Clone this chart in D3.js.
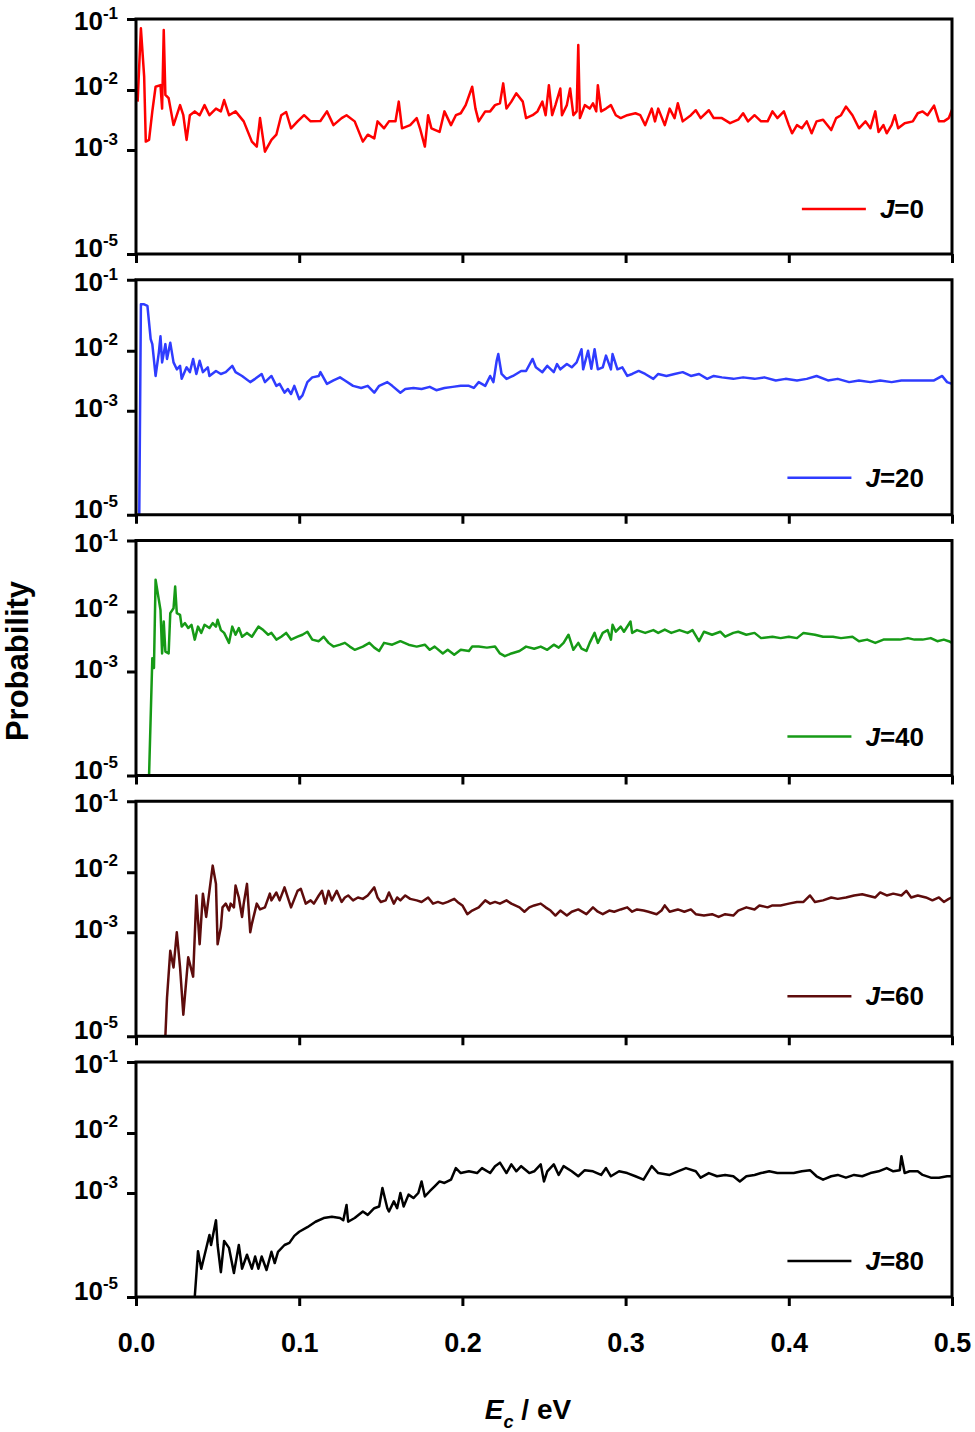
<!DOCTYPE html>
<html>
<head>
<meta charset="utf-8">
<script src="https://cdn.jsdelivr.net/npm/d3@7"></script>
<style>
  body { margin: 0; background: #fff; }
  text { font-family: "Liberation Sans", Arial, sans-serif; font-weight: bold; fill: #000; }
</style>
</head>
<body>
<svg width="975" height="1432"></svg>
<script>
// collision energy (eV) and probability for each J
var eJ0 = [0.001,0.003,0.005,0.006,0.008,0.010,0.012,0.015,0.016,0.017,0.018,0.020,0.023,0.027,0.029,0.031,0.033,0.036,0.039,0.042,0.045,0.049,0.052,0.054,0.057,0.061,0.066,0.071,0.074,0.076,0.079,0.083,0.086,0.089,0.092,0.095,0.099,0.103,0.107,0.113,0.117,0.121,0.126,0.129,0.134,0.139,0.142,0.146,0.148,0.152,0.155,0.159,0.161,0.163,0.168,0.172,0.174,0.177,0.179,0.181,0.186,0.189,0.193,0.196,0.199,0.202,0.206,0.208,0.210,0.214,0.217,0.220,0.223,0.225,0.227,0.230,0.233,0.237,0.239,0.243,0.246,0.249,0.251,0.253,0.255,0.257,0.260,0.261,0.264,0.266,0.268,0.270,0.271,0.272,0.275,0.278,0.280,0.282,0.283,0.285,0.288,0.291,0.294,0.297,0.301,0.306,0.309,0.312,0.316,0.318,0.320,0.324,0.327,0.330,0.332,0.335,0.340,0.343,0.346,0.351,0.354,0.359,0.364,0.369,0.372,0.375,0.379,0.383,0.387,0.390,0.393,0.397,0.400,0.402,0.405,0.408,0.411,0.414,0.417,0.421,0.426,0.429,0.432,0.435,0.439,0.443,0.447,0.450,0.453,0.455,0.458,0.460,0.463,0.465,0.467,0.471,0.476,0.479,0.482,0.485,0.489,0.492,0.495,0.498,0.500];
var pJ0 = [6.4e-3,7.4e-2,1.54e-2,1.38e-3,1.47e-3,4.4e-3,1.11e-2,1.17e-2,4.9e-3,7.0e-2,8.3e-3,7.3e-3,2.6e-3,5.6e-3,3.8e-3,1.47e-3,3.8e-3,4.4e-3,3.8e-3,5.6e-3,3.8e-3,4.9e-3,4.4e-3,6.8e-3,3.8e-3,4.4e-3,3.0e-3,1.38e-3,1.14e-3,3.4e-3,9.3e-4,1.47e-3,1.8e-3,3.8e-3,4.3e-3,2.3e-3,3.0e-3,3.8e-3,3.0e-3,3.05e-3,4.4e-3,2.6e-3,3.4e-3,3.8e-3,3.0e-3,1.38e-3,1.8e-3,1.56e-3,3.0e-3,2.3e-3,3.0e-3,3.0e-3,6.4e-3,2.3e-3,2.6e-3,3.4e-3,2.3e-3,1.14e-3,3.8e-3,2.3e-3,2.0e-3,4.4e-3,2.6e-3,3.8e-3,4.1e-3,5.6e-3,1.11e-2,4.9e-3,3.0e-3,4.4e-3,4.4e-3,5.6e-3,6.0e-3,1.24e-2,4.9e-3,6.4e-3,8.8e-3,6.4e-3,3.4e-3,3.8e-3,4.4e-3,6.4e-3,3.8e-3,1.17e-2,3.8e-3,5.6e-3,1.05e-2,3.8e-3,5.6e-3,1.05e-2,3.8e-3,4.4e-3,4.3e-2,3.4e-3,5.6e-3,4.9e-3,6.0e-3,4.4e-3,1.17e-2,4.4e-3,4.9e-3,5.6e-3,3.8e-3,3.4e-3,3.8e-3,4.1e-3,3.8e-3,2.6e-3,4.9e-3,3.0e-3,4.9e-3,2.6e-3,4.9e-3,3.4e-3,6.0e-3,3.0e-3,3.8e-3,4.6e-3,3.4e-3,4.6e-3,3.4e-3,3.4e-3,2.8e-3,3.2e-3,4.1e-3,3.0e-3,3.8e-3,3.0e-3,3.0e-3,4.4e-3,3.4e-3,4.4e-3,2.6e-3,1.9e-3,2.6e-3,2.3e-3,3.0e-3,1.9e-3,3.0e-3,3.2e-3,2.15e-3,3.4e-3,3.8e-3,5.3e-3,3.8e-3,2.3e-3,3.0e-3,2.3e-3,4.4e-3,2.0e-3,2.6e-3,1.9e-3,2.6e-3,3.8e-3,2.3e-3,2.8e-3,3.0e-3,4.1e-3,4.4e-3,3.8e-3,5.5e-3,3.0e-3,3.0e-3,3.4e-3,4.7e-3];

var eJ20 = [0.002,0.003,0.005,0.007,0.009,0.010,0.012,0.014,0.015,0.016,0.018,0.019,0.021,0.023,0.025,0.027,0.028,0.031,0.033,0.035,0.037,0.039,0.041,0.044,0.045,0.049,0.052,0.055,0.059,0.061,0.065,0.070,0.073,0.077,0.079,0.083,0.086,0.088,0.091,0.093,0.095,0.097,0.100,0.102,0.105,0.108,0.112,0.113,0.117,0.121,0.125,0.128,0.133,0.138,0.142,0.146,0.149,0.154,0.157,0.162,0.165,0.170,0.175,0.180,0.184,0.189,0.194,0.199,0.204,0.207,0.210,0.214,0.217,0.219,0.221,0.222,0.224,0.227,0.231,0.236,0.239,0.243,0.245,0.249,0.252,0.256,0.258,0.260,0.264,0.267,0.270,0.273,0.274,0.277,0.279,0.281,0.283,0.286,0.288,0.291,0.292,0.295,0.298,0.301,0.304,0.308,0.312,0.317,0.320,0.325,0.330,0.335,0.340,0.345,0.350,0.354,0.359,0.366,0.372,0.379,0.385,0.392,0.398,0.405,0.411,0.417,0.424,0.430,0.437,0.443,0.450,0.456,0.463,0.469,0.476,0.482,0.489,0.494,0.497,0.500];
var pJ20 = [1.0e-5,4.5e-2,4.5e-2,4.3e-2,1.46e-2,1.24e-2,3.8e-3,9.4e-3,1.6e-2,6.4e-3,1.24e-2,7.3e-3,1.3e-2,6.4e-3,4.9e-3,5.6e-3,3.4e-3,5.3e-3,4.4e-3,7.3e-3,4.1e-3,6.8e-3,4.4e-3,5.3e-3,3.8e-3,4.6e-3,4.1e-3,4.4e-3,5.6e-3,4.4e-3,3.8e-3,3.0e-3,3.4e-3,4.1e-3,3.0e-3,3.8e-3,2.6e-3,2.8e-3,2.0e-3,2.3e-3,1.9e-3,2.6e-3,1.56e-3,1.8e-3,3.0e-3,3.6e-3,3.8e-3,4.4e-3,2.8e-3,3.2e-3,3.6e-3,3.2e-3,2.6e-3,2.4e-3,2.6e-3,2.0e-3,2.6e-3,3.0e-3,2.6e-3,2.0e-3,2.3e-3,2.4e-3,2.3e-3,2.5e-3,2.2e-3,2.4e-3,2.5e-3,2.6e-3,2.6e-3,2.4e-3,3.0e-3,2.6e-3,3.8e-3,3.0e-3,6.8e-3,8.8e-3,4.1e-3,3.4e-3,3.8e-3,4.6e-3,4.6e-3,7.3e-3,5.3e-3,4.4e-3,5.6e-3,4.4e-3,6.0e-3,4.9e-3,6.0e-3,5.3e-3,6.4e-3,1.05e-2,4.9e-3,1.0e-2,5.0e-3,1.05e-2,4.9e-3,5.3e-3,8.3e-3,4.9e-3,8.8e-3,4.9e-3,5.3e-3,3.8e-3,4.1e-3,4.6e-3,4.1e-3,3.4e-3,4.1e-3,3.8e-3,4.1e-3,4.4e-3,3.8e-3,4.1e-3,3.4e-3,3.8e-3,3.6e-3,3.4e-3,3.6e-3,3.4e-3,3.6e-3,3.2e-3,3.4e-3,3.2e-3,3.4e-3,3.8e-3,3.2e-3,3.4e-3,3.0e-3,3.2e-3,3.0e-3,3.2e-3,3.0e-3,3.2e-3,3.2e-3,3.2e-3,3.2e-3,3.8e-3,3.0e-3,2.8e-3];

var eJ40 = [0.008,0.010,0.011,0.012,0.014,0.015,0.016,0.017,0.018,0.020,0.021,0.023,0.024,0.025,0.027,0.028,0.030,0.032,0.034,0.036,0.038,0.040,0.042,0.045,0.047,0.049,0.050,0.052,0.054,0.057,0.059,0.061,0.063,0.065,0.068,0.071,0.075,0.078,0.081,0.083,0.086,0.089,0.092,0.095,0.099,0.102,0.105,0.108,0.112,0.115,0.118,0.121,0.125,0.128,0.131,0.134,0.139,0.143,0.146,0.149,0.152,0.157,0.162,0.167,0.172,0.177,0.180,0.183,0.188,0.191,0.195,0.199,0.204,0.206,0.210,0.215,0.220,0.223,0.226,0.230,0.235,0.239,0.244,0.248,0.252,0.256,0.259,0.262,0.265,0.268,0.271,0.273,0.276,0.278,0.281,0.283,0.286,0.289,0.291,0.292,0.294,0.297,0.299,0.303,0.304,0.307,0.312,0.317,0.320,0.324,0.328,0.333,0.338,0.341,0.345,0.348,0.353,0.358,0.361,0.366,0.369,0.374,0.379,0.383,0.390,0.395,0.400,0.405,0.409,0.416,0.421,0.427,0.432,0.439,0.443,0.448,0.453,0.458,0.463,0.468,0.473,0.477,0.482,0.487,0.491,0.495,0.498,0.500];
var pJ40 = [1.0e-5,1.67e-3,1.14e-3,2.8e-2,1.46e-2,1.05e-2,2.0e-3,6.8e-3,2.15e-3,2.0e-3,9.4e-3,1.11e-2,2.25e-2,9.4e-3,8.8e-3,5.6e-3,6.4e-3,5.3e-3,6.0e-3,3.4e-3,5.6e-3,4.4e-3,6.0e-3,5.3e-3,6.4e-3,5.6e-3,7.3e-3,4.9e-3,4.4e-3,3.0e-3,5.6e-3,4.1e-3,5.3e-3,3.8e-3,4.4e-3,3.8e-3,5.6e-3,4.9e-3,4.1e-3,4.4e-3,3.4e-3,3.8e-3,4.4e-3,3.4e-3,3.8e-3,4.1e-3,4.6e-3,3.4e-3,3.2e-3,3.8e-3,3.0e-3,2.6e-3,2.8e-3,3.0e-3,2.6e-3,2.3e-3,2.6e-3,3.0e-3,2.5e-3,2.2e-3,3.0e-3,2.8e-3,3.2e-3,2.8e-3,2.6e-3,2.8e-3,2.3e-3,2.6e-3,2.0e-3,2.3e-3,1.9e-3,2.3e-3,2.2e-3,2.6e-3,2.6e-3,2.5e-3,2.6e-3,2.0e-3,1.8e-3,2.0e-3,2.2e-3,2.6e-3,2.4e-3,2.6e-3,2.3e-3,2.8e-3,2.5e-3,3.0e-3,4.1e-3,2.3e-3,3.0e-3,2.4e-3,2.2e-3,3.0e-3,4.4e-3,3.0e-3,4.4e-3,4.9e-3,3.4e-3,6.0e-3,4.6e-3,5.6e-3,4.6e-3,6.8e-3,4.4e-3,4.9e-3,4.4e-3,4.9e-3,4.4e-3,5.0e-3,4.4e-3,4.9e-3,4.4e-3,4.9e-3,3.2e-3,4.6e-3,4.1e-3,4.6e-3,3.8e-3,4.4e-3,4.6e-3,4.1e-3,4.4e-3,3.6e-3,3.8e-3,3.6e-3,3.8e-3,3.6e-3,4.4e-3,4.1e-3,3.8e-3,3.8e-3,3.6e-3,3.8e-3,3.2e-3,3.4e-3,3.0e-3,3.4e-3,3.4e-3,3.4e-3,3.6e-3,3.4e-3,3.4e-3,3.6e-3,3.2e-3,3.4e-3,3.2e-3,3.0e-3];

var eJ60 = [0.018,0.019,0.021,0.023,0.025,0.027,0.029,0.032,0.035,0.037,0.039,0.041,0.043,0.045,0.047,0.049,0.050,0.052,0.053,0.055,0.057,0.058,0.060,0.061,0.063,0.065,0.066,0.068,0.070,0.071,0.074,0.076,0.079,0.082,0.083,0.086,0.088,0.091,0.093,0.095,0.099,0.101,0.104,0.107,0.109,0.112,0.114,0.116,0.118,0.120,0.123,0.126,0.128,0.130,0.133,0.136,0.139,0.142,0.146,0.148,0.150,0.153,0.155,0.158,0.160,0.162,0.165,0.168,0.172,0.175,0.179,0.182,0.185,0.188,0.191,0.195,0.197,0.200,0.203,0.206,0.210,0.214,0.217,0.220,0.223,0.227,0.230,0.235,0.238,0.241,0.244,0.248,0.251,0.254,0.257,0.260,0.264,0.267,0.271,0.276,0.280,0.283,0.286,0.290,0.293,0.297,0.301,0.304,0.307,0.311,0.314,0.319,0.322,0.324,0.327,0.332,0.336,0.340,0.343,0.348,0.353,0.357,0.361,0.366,0.369,0.374,0.379,0.382,0.387,0.390,0.395,0.400,0.405,0.409,0.413,0.416,0.421,0.426,0.430,0.435,0.440,0.445,0.448,0.453,0.456,0.460,0.464,0.469,0.472,0.475,0.479,0.484,0.488,0.492,0.495,0.498,0.500];
var pJ60 = [1.0e-5,5.5e-5,4.4e-4,2.1e-4,1.0e-3,2.1e-4,2.6e-5,3.3e-4,1.4e-4,4.1e-3,5.9e-4,4.4e-3,1.8e-3,4.9e-3,1.24e-2,6.4e-3,5.9e-4,1.21e-3,2.6e-3,3.0e-3,2.3e-3,3.0e-3,2.6e-3,6.0e-3,3.8e-3,1.8e-3,3.0e-3,6.4e-3,1.0e-3,1.38e-3,3.0e-3,2.4e-3,2.6e-3,4.4e-3,3.4e-3,4.6e-3,3.4e-3,5.6e-3,3.8e-3,2.6e-3,4.9e-3,5.3e-3,3.0e-3,3.4e-3,3.0e-3,4.1e-3,4.9e-3,3.0e-3,4.9e-3,3.4e-3,4.9e-3,3.2e-3,3.8e-3,4.1e-3,3.4e-3,3.8e-3,3.6e-3,4.1e-3,5.6e-3,3.8e-3,3.2e-3,3.4e-3,4.6e-3,3.0e-3,3.8e-3,3.4e-3,4.1e-3,3.6e-3,3.4e-3,3.2e-3,3.8e-3,3.0e-3,3.2e-3,3.0e-3,3.2e-3,3.6e-3,3.2e-3,2.8e-3,2.0e-3,2.3e-3,2.6e-3,3.4e-3,3.0e-3,3.2e-3,3.0e-3,3.4e-3,3.0e-3,2.6e-3,2.2e-3,2.6e-3,2.8e-3,3.0e-3,2.6e-3,2.3e-3,1.9e-3,2.3e-3,1.9e-3,2.2e-3,2.4e-3,2.0e-3,2.6e-3,2.2e-3,2.0e-3,2.3e-3,2.2e-3,2.4e-3,2.6e-3,2.2e-3,2.4e-3,2.3e-3,2.2e-3,2.0e-3,2.3e-3,2.8e-3,2.2e-3,2.4e-3,2.2e-3,2.4e-3,2.0e-3,1.9e-3,2.0e-3,1.8e-3,2.0e-3,1.9e-3,2.3e-3,2.6e-3,2.4e-3,2.8e-3,2.6e-3,2.8e-3,2.8e-3,3.0e-3,3.2e-3,3.2e-3,4.1e-3,3.2e-3,3.4e-3,3.8e-3,3.6e-3,3.8e-3,4.1e-3,4.3e-3,4.1e-3,3.8e-3,4.6e-3,4.1e-3,4.4e-3,4.1e-3,4.9e-3,3.8e-3,4.1e-3,3.8e-3,3.4e-3,3.8e-3,3.2e-3,3.6e-3,3.8e-3];

var eJ80 = [0.036,0.038,0.040,0.045,0.046,0.049,0.050,0.052,0.054,0.057,0.060,0.063,0.065,0.068,0.071,0.073,0.075,0.077,0.080,0.083,0.085,0.087,0.091,0.094,0.097,0.100,0.105,0.110,0.115,0.120,0.125,0.127,0.129,0.130,0.134,0.139,0.142,0.146,0.149,0.151,0.154,0.155,0.158,0.160,0.162,0.164,0.167,0.170,0.173,0.175,0.177,0.180,0.183,0.186,0.189,0.193,0.196,0.199,0.204,0.209,0.212,0.217,0.220,0.223,0.227,0.230,0.233,0.236,0.241,0.244,0.248,0.250,0.252,0.256,0.259,0.262,0.267,0.271,0.275,0.280,0.285,0.288,0.291,0.296,0.301,0.306,0.311,0.316,0.320,0.327,0.332,0.337,0.343,0.346,0.351,0.356,0.361,0.366,0.370,0.374,0.379,0.383,0.388,0.393,0.398,0.403,0.408,0.413,0.417,0.421,0.426,0.430,0.435,0.440,0.445,0.450,0.455,0.460,0.464,0.468,0.469,0.471,0.474,0.479,0.482,0.487,0.492,0.497,0.500];
var pJ80 = [1.0e-5,7.6e-5,3.5e-5,1.56e-4,1.0e-4,3.0e-4,1.0e-4,3.0e-5,1.2e-4,8.8e-5,2.9e-5,1.0e-4,3.5e-5,6.5e-5,3.5e-5,6.0e-5,3.5e-5,6.0e-5,3.3e-5,7.4e-5,4.5e-5,7.4e-5,1.0e-4,1.1e-4,1.5e-4,1.8e-4,2.2e-4,2.8e-4,3.3e-4,3.5e-4,3.3e-4,3.0e-4,5.9e-4,2.8e-4,3.3e-4,4.4e-4,3.8e-4,5.1e-4,5.5e-4,1.21e-3,5.1e-4,4.4e-4,6.9e-4,5.1e-4,1.0e-3,5.5e-4,9.3e-4,8.0e-4,1.0e-3,1.56e-3,8.6e-4,1.07e-3,1.29e-3,1.56e-3,1.47e-3,1.67e-3,2.6e-3,2.15e-3,2.3e-3,2.15e-3,2.6e-3,2.15e-3,2.8e-3,3.2e-3,2.15e-3,3.0e-3,2.3e-3,2.8e-3,2.15e-3,2.3e-3,3.0e-3,1.56e-3,2.3e-3,3.0e-3,2.0e-3,2.8e-3,2.3e-3,1.9e-3,2.4e-3,2.3e-3,2.0e-3,2.6e-3,1.9e-3,2.3e-3,2.15e-3,1.9e-3,1.67e-3,2.8e-3,2.15e-3,2.0e-3,2.3e-3,2.6e-3,2.3e-3,1.8e-3,2.15e-3,1.9e-3,2.0e-3,1.9e-3,1.56e-3,1.9e-3,2.0e-3,2.15e-3,2.3e-3,2.15e-3,2.15e-3,2.15e-3,2.3e-3,2.4e-3,1.9e-3,1.67e-3,1.9e-3,2.0e-3,1.8e-3,2.0e-3,1.9e-3,2.15e-3,2.3e-3,2.6e-3,2.3e-3,2.4e-3,4.1e-3,2.15e-3,2.3e-3,2.3e-3,2.0e-3,1.8e-3,1.8e-3,1.9e-3,1.9e-3];

var seriesNames = ["0", "20", "40", "60", "80"];
var seriesColors = ["#ff0000", "#2f3cff", "#169a16", "#5e0c0c", "#000000"];
var seriesE = [eJ0, eJ20, eJ40, eJ60, eJ80];
var seriesP = [pJ0, pJ20, pJ40, pJ60, pJ80];

var xTicks = [0, 0.1, 0.2, 0.3, 0.4, 0.5];
var yTickExp = [-1, -2, -3, -5];

var svg = d3.select("svg");
var left = 136, width = 816, panelH = 235, panelStep = 260.75, top0 = 19;

var x = d3.scaleLinear().domain([0, 0.5]).range([0, width]);
// the y axis in the figure is log-type but not evenly spaced between decades
var yExp = d3.scaleLinear().domain([-5, -3, -2, -1]).range([panelH, 131, 71, 0]);
var y = function(p){ return yExp(Math.log10(p)); };

var legendDy = [190, 198, 196, 195, 199];
var labelDy = {"-1": 11, "-2": 5, "-3": 6, "-5": 3};

seriesNames.forEach(function(name, i){
    var g = svg.append("g")
        .attr("transform", "translate(" + left + "," + (top0 + i * panelStep) + ")");

    var pts = seriesE[i].map(function(e, k){ return [e, seriesP[i][k]]; });
    var line = d3.line()
        .x(function(d){ return x(d[0]); })
        .y(function(d){ return y(d[1]); });

    g.append("path")
        .datum(pts)
        .attr("d", line)
        .attr("fill", "none")
        .attr("stroke", seriesColors[i])
        .attr("stroke-width", 2.5)
        .attr("stroke-linejoin", "round");

    // frame
    g.append("rect")
        .attr("width", width).attr("height", panelH)
        .attr("fill", "none").attr("stroke", "#000").attr("stroke-width", 3);

    // y ticks
    var yAxis = g.append("g")
        .call(d3.axisLeft(yExp).tickValues(yTickExp).tickSize(9).tickSizeOuter(0).tickFormat(""));
    yAxis.select(".domain").remove();
    yAxis.selectAll("line").attr("stroke-width", 3);

    yTickExp.forEach(function(ex){
        var t = g.append("text")
            .attr("x", -18).attr("y", yExp(ex) + labelDy[String(ex)])
            .attr("text-anchor", "end")
            .style("font-size", "26px");
        t.append("tspan").text("10");
        t.append("tspan").attr("dy", -11).style("font-size", "17px").text(String(ex));
    });

    // x ticks
    var xAxis = g.append("g")
        .attr("transform", "translate(0," + panelH + ")")
        .call(d3.axisBottom(x).tickValues(xTicks).tickSize(9).tickSizeOuter(0)
            .tickFormat(i === 4 ? d3.format(".1f") : ""));
    xAxis.select(".domain").remove();
    xAxis.selectAll("line").attr("stroke-width", 3);
    xAxis.selectAll("text")
        .attr("y", 0).attr("dy", 0)
        .attr("transform", "translate(0,55)")
        .style("font-size", "27px")
        .style("font-family", "'Liberation Sans', Arial, sans-serif")
        .style("font-weight", "bold")
        .attr("fill", "#000");

    // legend
    var lt = g.append("text")
        .attr("x", 788).attr("y", legendDy[i] + 9)
        .attr("text-anchor", "end")
        .style("font-size", "26px");
    lt.append("tspan").style("font-style", "italic").text("J");
    lt.append("tspan").text("=" + name);
    var tw = lt.node().getComputedTextLength();
    g.append("line")
        .attr("x1", 788 - tw - 14 - 64).attr("x2", 788 - tw - 14)
        .attr("y1", legendDy[i]).attr("y2", legendDy[i])
        .attr("stroke", seriesColors[i]).attr("stroke-width", 2.5);
});

// axis titles
svg.append("text")
    .attr("transform", "translate(28,661) rotate(-90)")
    .attr("text-anchor", "middle")
    .style("font-size", "31px")
    .text("Probability");

var xt = svg.append("text")
    .attr("x", 528).attr("y", 1419)
    .attr("text-anchor", "middle")
    .style("font-size", "28px");
xt.append("tspan").style("font-style", "italic").text("E");
xt.append("tspan").attr("dy", 9).style("font-style", "italic").style("font-size", "18px").text("c");
xt.append("tspan").attr("dy", -9).text(" / eV");
</script>
</body>
</html>
